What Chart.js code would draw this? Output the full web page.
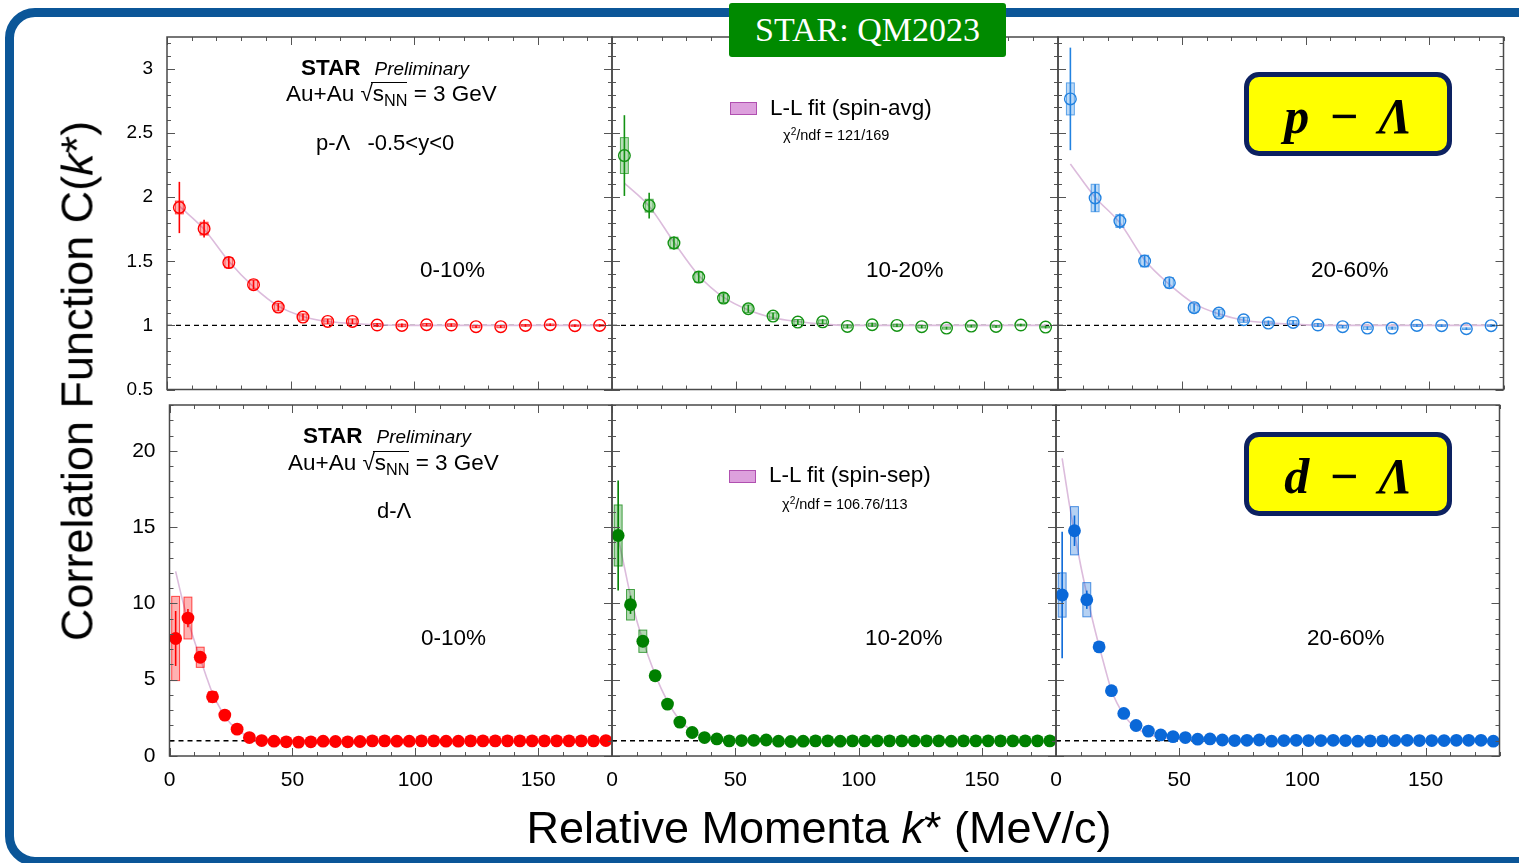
<!DOCTYPE html>
<html>
<head>
<meta charset="utf-8">
<title>STAR p-Λ and d-Λ correlation functions</title>
<script src="https://cdn.jsdelivr.net/npm/chart.js@4.4.1/dist/chart.umd.min.js"></script>
<style>
  html, body { margin: 0; padding: 0; background: #fff; }
  body { width: 1519px; height: 863px; position: relative; overflow: hidden; font-family: "Liberation Sans", Arial, sans-serif; }
  #frame { position: absolute; left: 5px; top: 8px; width: 1560px; height: 858px; box-sizing: border-box;
           border: 9px solid #0b5698; border-radius: 30px; }
  canvas { position: absolute; left: 0; top: 0; }
  .lbl { position: absolute; white-space: pre; line-height: 1; color: #000; z-index: 5; }
  .sub { font-size: 0.72em; position: relative; top: 0.3em; }
  .sup { font-size: 0.7em; position: relative; top: -0.5em; }
  .ovl { position: relative; }
  .ovl::before { content: ""; position: absolute; left: -2px; right: 0; top: 0.08em; border-top: 1.3px solid #000; }
  .legbox { position: absolute; width: 25px; height: 11px; background: #dda0dd; border: 1px solid #b050b0; z-index: 5; }
  .tag { position: absolute; box-sizing: border-box; width: 208px; height: 84px; background: #ffff00;
         border: 5px solid #0c2160; border-radius: 15px; display: flex; align-items: center; justify-content: center;
         font: italic bold 50px "Liberation Serif", "Times New Roman", serif; line-height: 1; padding-top: 4px;
         word-spacing: 7px; z-index: 6; }
  #conf { position: absolute; left: 729px; top: 3px; width: 277px; height: 54px; background: #008a00; border-radius: 3px;
          display: flex; align-items: center; justify-content: center; color: #fff;
          font: 34px "Liberation Serif", "Times New Roman", serif; line-height: 1; z-index: 6; }
  #ytitle { position: absolute; left: 77px; top: 381px; transform: translate(-50%, -50%) rotate(-90deg);
            font-size: 45px; line-height: 1; white-space: nowrap; z-index: 5; }
  #xtitle { position: absolute; left: 819px; top: 805px; transform: translateX(-50%);
            font-size: 45px; line-height: 1; white-space: nowrap; z-index: 5; }
</style>
</head>
<body>
<div id="frame"></div>
<div id="conf">STAR: QM2023</div>
<div class="tag" style="left:1244px; top:72px;">p − Λ</div>
<div class="tag" style="left:1244px; top:432px;">d − Λ</div>
<div id="ytitle">Correlation Function C(<i>k</i>*)</div>
<div id="xtitle">Relative Momenta <i>k</i>* (MeV/c)</div>
<div class="legbox" style="left:730px; top:102px;"></div>
<div class="legbox" style="left:729px; top:470px;"></div>
<script>
var W = 1519, H = 863;

// axis ranges and tick labels
var kRange = [0, 180];
var kTicks = [0, 50, 100, 150];
var cfRangePL = [0.5, 3.25];
var cfTicksPL = [0.5, 1, 1.5, 2, 2.5, 3];
var cfRangeDL = [0, 23];
var cfTicksDL = [0, 5, 10, 15, 20];
var unity = [1, 1];

// p-Lambda, k* bin centres (MeV/c)
var kStarPL = [5, 15, 25, 35, 45, 55, 65, 75, 85, 95, 105, 115, 125, 135, 145, 155, 165, 175];

// p-Lambda 0-10%
var cfPL010 = [1.92, 1.755, 1.49, 1.318, 1.143, 1.065, 1.031, 1.031, 1.003, 1.0, 1.005, 1.003, 0.99, 0.99, 1.0, 1.005, 0.998, 1.0];
var statPL010 = [0.2, 0.07, 0.045, 0.035, 0.03, 0.025, 0.02, 0.02, 0.015, 0.015, 0.012, 0.012, 0.01, 0.01, 0.01, 0.01, 0.01, 0.01];
var sysPL010 = [0.05, 0.05, 0.04, 0.035, 0.03, 0.025, 0.02, 0.02, 0.012, 0.01, 0.01, 0.01, 0.008, 0.008, 0.006, 0.006, 0.005, 0.005];
var fitPL010 = [1.93, 1.75, 1.5, 1.3, 1.15, 1.07, 1.03, 1.015, 1.005, 1.0, 1.0, 1.0, 1.0, 1.0, 1.0, 1.0, 1.0, 1.0];

// p-Lambda 10-20%
var cfPL1020 = [2.325, 1.934, 1.643, 1.377, 1.213, 1.13, 1.073, 1.026, 1.028, 0.992, 1.005, 1.0, 0.99, 0.979, 0.995, 0.992, 1.003, 0.987];
var statPL1020 = [0.315, 0.1, 0.05, 0.04, 0.035, 0.03, 0.025, 0.02, 0.02, 0.015, 0.015, 0.012, 0.012, 0.01, 0.01, 0.01, 0.01, 0.01];
var sysPL1020 = [0.14, 0.05, 0.045, 0.04, 0.035, 0.03, 0.025, 0.02, 0.015, 0.012, 0.012, 0.01, 0.01, 0.008, 0.008, 0.006, 0.006, 0.006];
var fitPL1020 = [2.11, 1.93, 1.65, 1.39, 1.22, 1.12, 1.06, 1.03, 1.01, 1.0, 1.0, 1.0, 1.0, 1.0, 1.0, 1.0, 1.0, 1.0];

// p-Lambda 20-60%
var cfPL2060 = [2.767, 1.994, 1.814, 1.502, 1.333, 1.138, 1.096, 1.044, 1.018, 1.023, 1.003, 0.99, 0.979, 0.979, 1.0, 0.998, 0.974, 0.998];
var statPL2060 = [0.4, 0.107, 0.06, 0.04, 0.035, 0.03, 0.025, 0.02, 0.02, 0.015, 0.015, 0.012, 0.012, 0.01, 0.01, 0.01, 0.01, 0.01];
var sysPL2060 = [0.125, 0.107, 0.05, 0.045, 0.04, 0.035, 0.03, 0.02, 0.015, 0.015, 0.012, 0.01, 0.01, 0.008, 0.008, 0.006, 0.006, 0.006];
var fitPL2060 = [2.26, 2.0, 1.8, 1.51, 1.32, 1.17, 1.09, 1.04, 1.02, 1.01, 1.0, 1.0, 1.0, 1.0, 1.0, 1.0, 1.0, 1.0];

// d-Lambda, k* bin centres (MeV/c)
var kStarDL = [2.5, 7.5, 12.5, 17.5, 22.5, 27.5, 32.5, 37.5, 42.5, 47.5, 52.5, 57.5, 62.5, 67.5, 72.5, 77.5, 82.5, 87.5,
               92.5, 97.5, 102.5, 107.5, 112.5, 117.5, 122.5, 127.5, 132.5, 137.5, 142.5, 147.5, 152.5, 157.5, 162.5, 167.5, 172.5, 177.5];
var kFitDL = [2.5, 5, 7.5, 10, 12.5, 15, 17.5, 20, 22.5, 25, 27.5, 30, 32.5, 35, 37.5, 40, 45, 50, 60, 80, 120, 180];

// d-Lambda 0-10%
var cfDL010 = [7.7, 9.04, 6.47, 3.88, 2.68, 1.76, 1.21, 1.01, 0.97, 0.93, 0.91, 0.93, 0.97, 0.95, 0.93, 0.95, 0.99, 0.99,
               0.97, 0.97, 0.99, 0.99, 0.97, 0.97, 0.99, 0.99, 0.99, 0.99, 0.99, 0.99, 0.99, 0.99, 0.99, 0.99, 0.99, 1.01];
var statDL010 = [1.8, 0.6, 0.3, 0.2, 0.15, 0.1, 0.08, 0.06, 0.05, 0.05, 0.05, 0.05, 0.05, 0.05, 0.05, 0.05, 0.05, 0.05,
                 0.05, 0.05, 0.05, 0.05, 0.05, 0.05, 0.05, 0.05, 0.05, 0.05, 0.05, 0.05, 0.05, 0.05, 0.05, 0.05, 0.05, 0.05];
var sysDL010 = [2.76, 1.37, 0.66, 0.35, 0.2, 0.12, 0.08, 0.05, 0.05, 0.04, 0.04, 0.04, 0.04, 0.04, 0.04, 0.04, 0.04, 0.04,
                0.04, 0.04, 0.04, 0.04, 0.04, 0.04, 0.04, 0.04, 0.04, 0.04, 0.04, 0.04, 0.04, 0.04, 0.04, 0.04, 0.04, 0.04];
var fitDL010 = [12.1, 10.4, 8.9, 7.6, 6.4, 5.2, 4.1, 3.3, 2.6, 2.1, 1.7, 1.45, 1.25, 1.12, 1.05, 1.02, 1.0, 0.99, 0.99, 0.99, 0.99, 0.99];

// d-Lambda 10-20%
var cfDL1020 = [14.45, 9.91, 7.52, 5.26, 3.4, 2.22, 1.54, 1.21, 1.12, 0.99, 1.01, 1.03, 1.05, 0.97, 0.95, 0.97, 0.99, 0.99,
                0.97, 0.99, 0.99, 0.99, 0.99, 0.99, 0.99, 0.99, 0.99, 0.97, 0.99, 0.99, 0.99, 0.99, 0.99, 0.99, 0.99, 0.99];
var statDL1020 = [3.6, 0.6, 0.4, 0.25, 0.15, 0.1, 0.08, 0.06, 0.05, 0.05, 0.05, 0.05, 0.05, 0.05, 0.05, 0.05, 0.05, 0.05,
                  0.05, 0.05, 0.05, 0.05, 0.05, 0.05, 0.05, 0.05, 0.05, 0.05, 0.05, 0.05, 0.05, 0.05, 0.05, 0.05, 0.05, 0.05];
var sysDL1020 = [2.0, 1.0, 0.73, 0.3, 0.2, 0.12, 0.08, 0.05, 0.05, 0.04, 0.04, 0.04, 0.04, 0.04, 0.04, 0.04, 0.04, 0.04,
                 0.04, 0.04, 0.04, 0.04, 0.04, 0.04, 0.04, 0.04, 0.04, 0.04, 0.04, 0.04, 0.04, 0.04, 0.04, 0.04, 0.04, 0.04];
var fitDL1020 = [14.3, 12.4, 10.5, 8.9, 7.6, 6.4, 5.35, 4.4, 3.6, 2.9, 2.35, 1.95, 1.6, 1.38, 1.22, 1.12, 1.03, 1.0, 0.99, 0.99, 0.99, 0.99];

// d-Lambda 20-60%
var cfDL2060 = [10.55, 14.76, 10.24, 7.15, 4.28, 2.79, 2.0, 1.63, 1.38, 1.27, 1.21, 1.1, 1.12, 1.05, 1.01, 1.03, 1.05, 0.97,
                1.01, 1.03, 1.01, 1.01, 1.03, 1.01, 0.97, 0.99, 0.99, 1.01, 1.03, 1.01, 1.01, 1.01, 1.03, 1.03, 1.03, 0.97];
var statDL2060 = [4.14, 1.0, 0.6, 0.3, 0.2, 0.12, 0.1, 0.08, 0.06, 0.05, 0.05, 0.05, 0.05, 0.05, 0.05, 0.05, 0.05, 0.05,
                  0.05, 0.05, 0.05, 0.05, 0.05, 0.05, 0.05, 0.05, 0.05, 0.05, 0.05, 0.05, 0.05, 0.05, 0.05, 0.05, 0.05, 0.05];
var sysDL2060 = [1.45, 1.58, 1.12, 0.3, 0.2, 0.12, 0.08, 0.06, 0.05, 0.04, 0.04, 0.04, 0.04, 0.04, 0.04, 0.04, 0.04, 0.04,
                 0.04, 0.04, 0.04, 0.04, 0.04, 0.04, 0.04, 0.04, 0.04, 0.04, 0.04, 0.04, 0.04, 0.04, 0.04, 0.04, 0.04, 0.04];
var fitDL2060 = [19.5, 16.9, 14.6, 12.5, 10.6, 8.8, 7.2, 5.7, 4.3, 3.4, 2.7, 2.2, 1.85, 1.6, 1.42, 1.3, 1.17, 1.1, 1.04, 1.01, 1.0, 1.0];

Chart.defaults.font.family = '"Liberation Sans", Arial, sans-serif';
Chart.defaults.color = '#000';

function rgba(hex, a) {
  var n = parseInt(hex.slice(1), 16);
  return 'rgba(' + (n >> 16) + ',' + ((n >> 8) & 255) + ',' + (n & 255) + ',' + a + ')';
}

function points(xs, ys) {
  return xs.map(function (x, i) { return { x: x, y: ys[i] }; });
}

// systematic boxes and statistical bars, drawn just before the markers
var errorBoxes = {
  id: 'errorBoxes',
  beforeDatasetDraw: function (chart, args) {
    var ds = chart.data.datasets[args.index];
    if (!ds.statErr) return;
    var ctx = chart.ctx, xs = chart.scales.x, ys = chart.scales.y;
    ctx.save();
    ds.data.forEach(function (pt, i) {
      var px = xs.getPixelForValue(pt.x);
      var x0 = xs.getPixelForValue(pt.x - ds.boxHalf), x1 = xs.getPixelForValue(pt.x + ds.boxHalf);
      var y0 = ys.getPixelForValue(pt.y + ds.sysErr[i]), y1 = ys.getPixelForValue(pt.y - ds.sysErr[i]);
      ctx.fillStyle = ds.boxFill;
      ctx.strokeStyle = ds.boxLine;
      ctx.lineWidth = 1;
      ctx.fillRect(x0, y0, x1 - x0, y1 - y0);
      ctx.strokeRect(x0, y0, x1 - x0, y1 - y0);
      ctx.strokeStyle = ds.barColor;
      ctx.lineWidth = 1.6;
      ctx.beginPath();
      ctx.moveTo(px, ys.getPixelForValue(pt.y + ds.statErr[i]));
      ctx.lineTo(px, ys.getPixelForValue(pt.y - ds.statErr[i]));
      ctx.stroke();
    });
    ctx.restore();
  }
};

// box frame with inward ticks on all four sides
var frameTicks = {
  id: 'frameTicks',
  afterDraw: function (chart, args, opt) {
    var ctx = chart.ctx, a = chart.chartArea;
    var xs = chart.scales.x, ys = chart.scales.y;
    var n, p, len;
    ctx.save();
    ctx.strokeStyle = '#555';
    ctx.lineWidth = 1;
    ctx.beginPath();
    for (n = Math.ceil(xs.min / opt.xMinor); n * opt.xMinor <= xs.max + 1e-9; n++) {
      p = Math.round(xs.getPixelForValue(n * opt.xMinor)) + 0.5;
      len = n % opt.xEvery === 0 ? 8 : 4;
      ctx.moveTo(p, a.bottom); ctx.lineTo(p, a.bottom - len);
      ctx.moveTo(p, a.top); ctx.lineTo(p, a.top + len);
    }
    for (n = Math.ceil(ys.min / opt.yMinor - 1e-9); n * opt.yMinor <= ys.max + 1e-9; n++) {
      p = Math.round(ys.getPixelForValue(n * opt.yMinor)) + 0.5;
      len = n % opt.yEvery === 0 ? 8 : 4;
      ctx.moveTo(a.left, p); ctx.lineTo(a.left + len, p);
      ctx.moveTo(a.right, p); ctx.lineTo(a.right - len, p);
    }
    ctx.stroke();
    ctx.strokeStyle = '#4a4a4a';
    ctx.lineWidth = 1.5;
    ctx.strokeRect(a.left, a.top, a.right - a.left, a.bottom - a.top);
    ctx.restore();
  }
};

function fixedTicks(values) {
  return function (scale) {
    scale.ticks = values.map(function (v) { return { value: v }; });
  };
}

function fixedSize(prop, size) {
  return function (scale) {
    scale[prop] = size;
    scale.paddingLeft = scale.paddingRight = scale.paddingTop = scale.paddingBottom = 0;
  };
}

function drawPanel(p) {
  var canvas = document.createElement('canvas');
  canvas.width = W;
  canvas.height = H;
  document.body.insertBefore(canvas, document.getElementById('conf'));
  var yw = p.showY ? 70 : 0, xh = p.showX ? 45 : 0;
  return new Chart(canvas.getContext('2d'), {
    type: 'scatter',
    data: {
      datasets: [
        {
          data: points(p.k, p.cf),
          statErr: p.stat, sysErr: p.sys, boxHalf: 1.6,
          boxFill: rgba(p.color, 0.3), boxLine: rgba(p.color, 0.7), barColor: p.color,
          pointStyle: 'circle',
          pointRadius: p.open ? 5.8 : 6.4,
          borderWidth: p.open ? 1.4 : 0,
          borderColor: p.color,
          backgroundColor: p.open ? 'rgba(0,0,0,0)' : p.color,
          clip: false
        },
        {
          data: points(p.fitK, p.fit),
          showLine: true, pointRadius: 0,
          borderColor: '#dcbcdc', borderWidth: 1.6,
          cubicInterpolationMode: 'monotone'
        },
        {
          data: points(kRange, unity),
          showLine: true, pointRadius: 0,
          borderColor: '#000', borderWidth: 1.3, borderDash: [5, 4]
        }
      ]
    },
    options: {
      responsive: false,
      animation: false,
      events: [],
      devicePixelRatio: 1,
      layout: {
        padding: { left: p.box[0] - yw, top: p.box[1], right: W - p.box[2], bottom: H - p.box[3] - xh }
      },
      scales: {
        x: {
          type: 'linear', min: kRange[0], max: kRange[1],
          afterBuildTicks: fixedTicks(kTicks),
          afterFit: fixedSize('height', xh),
          grid: { display: false, drawTicks: false }, border: { display: false },
          ticks: { display: p.showX, padding: 12, maxRotation: 0, font: { size: 21 },
                   callback: function (v) { return String(v); } }
        },
        y: {
          type: 'linear', min: p.yRange[0], max: p.yRange[1],
          afterBuildTicks: fixedTicks(p.yTicks),
          afterFit: fixedSize('width', yw),
          grid: { display: false, drawTicks: false }, border: { display: false },
          ticks: { display: p.showY, padding: 14, font: { size: p.ySize },
                   callback: function (v) { return String(v); } }
        }
      },
      plugins: {
        legend: { display: false },
        tooltip: { enabled: false },
        frameTicks: { xMinor: 10, xEvery: 5, yMinor: p.yMinor, yEvery: 5 }
      }
    },
    plugins: [errorBoxes, frameTicks]
  });
}

var panels = [
  { box: [167, 37, 612, 389.5], k: kStarPL, cf: cfPL010, stat: statPL010, sys: sysPL010, fitK: kStarPL, fit: fitPL010,
    color: '#ff0000', open: true, yRange: cfRangePL, yTicks: cfTicksPL, yMinor: 0.1, ySize: 19, showY: true, showX: false },
  { box: [612, 37, 1058, 389.5], k: kStarPL, cf: cfPL1020, stat: statPL1020, sys: sysPL1020, fitK: kStarPL, fit: fitPL1020,
    color: '#139213', open: true, yRange: cfRangePL, yTicks: cfTicksPL, yMinor: 0.1, ySize: 19, showY: false, showX: false },
  { box: [1058, 37, 1503.5, 389.5], k: kStarPL, cf: cfPL2060, stat: statPL2060, sys: sysPL2060, fitK: kStarPL, fit: fitPL2060,
    color: '#2282e0', open: true, yRange: cfRangePL, yTicks: cfTicksPL, yMinor: 0.1, ySize: 19, showY: false, showX: false },
  { box: [169.5, 405, 612, 756], k: kStarDL, cf: cfDL010, stat: statDL010, sys: sysDL010, fitK: kFitDL, fit: fitDL010,
    color: '#ff0000', open: false, yRange: cfRangeDL, yTicks: cfTicksDL, yMinor: 1, ySize: 21, showY: true, showX: true },
  { box: [612, 405, 1056, 756], k: kStarDL, cf: cfDL1020, stat: statDL1020, sys: sysDL1020, fitK: kFitDL, fit: fitDL1020,
    color: '#008000', open: false, yRange: cfRangeDL, yTicks: cfTicksDL, yMinor: 1, ySize: 21, showY: false, showX: true },
  { box: [1056, 405, 1499.5, 756], k: kStarDL, cf: cfDL2060, stat: statDL2060, sys: sysDL2060, fitK: kFitDL, fit: fitDL2060,
    color: '#0a68d8', open: false, yRange: cfRangeDL, yTicks: cfTicksDL, yMinor: 1, ySize: 21, showY: false, showX: true }
];

panels.forEach(drawPanel);

// in-frame annotations; y is the text baseline
function label(html, x, base, size) {
  var d = document.createElement('div');
  d.className = 'lbl';
  d.style.left = x + 'px';
  d.style.top = (base - 0.8465 * size) + 'px';
  d.style.fontSize = size + 'px';
  d.innerHTML = html;
  document.body.appendChild(d);
}

var starLine = '<b>STAR</b><span style="font-size:0.84em; margin-left:14px;"><i>Preliminary</i></span>';
var energy = 'Au+Au √<span class="ovl">s<span class="sub">NN</span></span> = 3 GeV';

label(starLine, 301, 75.7, 22.5);
label(energy, 286, 101.7, 22.5);
label('p-Λ   -0.5&lt;y&lt;0', 316, 150.7, 22);
label('0-10%', 420, 278.3, 22.5);
label('L-L fit (spin-avg)', 770, 116, 22.5);
label('χ<span class="sup">2</span>/ndf = 121/169', 783, 140, 14.5);
label('10-20%', 866, 278.3, 22.5);
label('20-60%', 1311, 278.3, 22.5);

label(starLine, 303, 444.3, 22.5);
label(energy, 288, 470.7, 22.5);
label('d-Λ', 377, 518.3, 22);
label('0-10%', 421, 645.7, 22.5);
label('L-L fit (spin-sep)', 769, 483.3, 22.5);
label('χ<span class="sup">2</span>/ndf = 106.76/113', 782, 509, 14.5);
label('10-20%', 865, 645.7, 22.5);
label('20-60%', 1307, 645.7, 22.5);
</script>
</body>
</html>
